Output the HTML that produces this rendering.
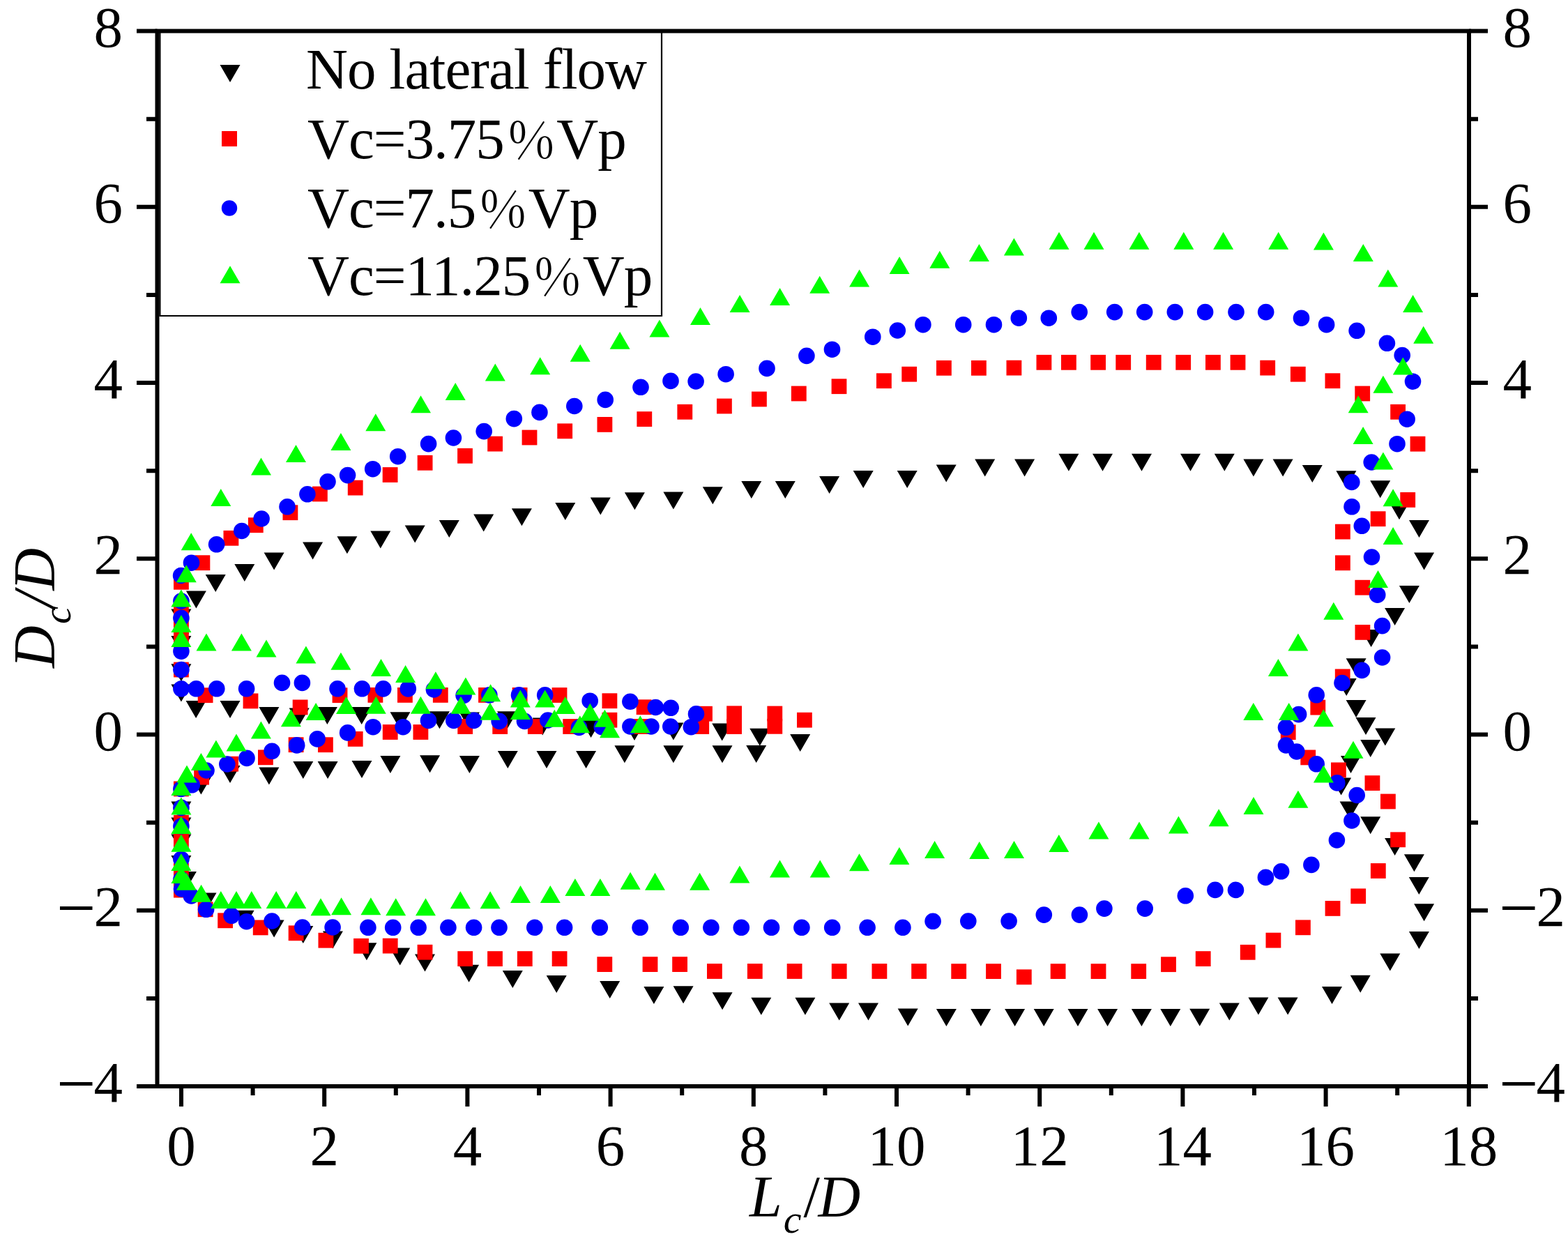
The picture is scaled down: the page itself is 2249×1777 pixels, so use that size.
<!DOCTYPE html><html><head><meta charset="utf-8"><style>html,body{margin:0;padding:0;background:#fff;overflow:hidden;}svg{display:block}</style></head><body>
<svg width="2249" height="1777" viewBox="0 0 2249 1777">
<rect x="0" y="0" width="2249" height="1777" fill="#fff"/>
<path fill="#000" d="M796.3,721.0H825.3L810.8,746.0ZM733.9,729.3H762.9L748.4,754.3ZM679.2,737.6H708.2L693.7,762.6ZM629.8,746.0H658.8L644.3,771.0ZM245.4,981.4H274.4L259.9,1006.4ZM266.6,1005.1H295.6L281.1,1030.1ZM315.5,1005.1H344.5L330.0,1030.1ZM371.4,1014.1H400.4L385.9,1039.1ZM414.7,1015.5H443.7L429.2,1040.5ZM454.9,1014.1H483.9L469.4,1039.1ZM504.2,1014.1H533.2L518.7,1039.1ZM315.5,1098.1H344.5L330.0,1123.1ZM371.4,1100.4H400.4L385.9,1125.4ZM420.3,1092.1H449.3L434.8,1117.1ZM455.6,1092.1H484.6L470.1,1117.1ZM504.5,1091.1H533.5L519.0,1116.1ZM273.9,1114.6H302.9L288.4,1139.6ZM245.4,1149.5H274.4L259.9,1174.5ZM245.4,1172.4H274.4L259.9,1197.4ZM245.4,1196.6H274.4L259.9,1221.6ZM245.4,1227.1H274.4L259.9,1252.1ZM252.9,1250.0H281.9L267.4,1275.0ZM281.5,1280.4H310.5L296.0,1305.4ZM335.6,1305.8H364.6L350.1,1330.8ZM378.6,1319.6H407.6L393.1,1344.6ZM420.3,1327.9H449.3L434.8,1352.9ZM462.9,1335.5H491.9L477.4,1360.5ZM559.5,1021.3H588.5L574.0,1046.3ZM615.9,1020.2H644.9L630.4,1045.2ZM658.9,1021.6H687.9L673.4,1046.6ZM713.1,1020.2H742.1L727.6,1045.2ZM763.7,1029.6H792.7L778.2,1054.6ZM545.4,1084.0H574.4L559.9,1109.0ZM602.1,1083.2H631.1L616.6,1108.2ZM658.9,1084.0H687.9L673.4,1109.0ZM713.8,1076.9H742.8L728.3,1101.9ZM769.5,1076.9H798.5L784.0,1101.9ZM833.1,1033.0H862.1L847.6,1058.0ZM895.5,1037.0H924.5L910.0,1062.0ZM951.4,1036.4H980.4L965.9,1061.4ZM1021.2,1037.4H1050.2L1035.7,1062.4ZM826.1,1077.1H855.1L840.6,1102.1ZM881.4,1069.2H910.4L895.9,1094.2ZM951.4,1069.2H980.4L965.9,1094.2ZM1021.5,1069.2H1050.5L1036.0,1094.2ZM1075.3,1044.8H1104.3L1089.8,1069.8ZM1133.2,1052.9H1162.2L1147.7,1077.9ZM1070.2,1069.0H1099.2L1084.7,1094.0ZM511.4,1352.2H540.4L525.9,1377.2ZM559.2,1359.6H588.2L573.7,1384.6ZM595.0,1368.6H624.0L609.5,1393.6ZM658.1,1383.7H687.1L672.6,1408.7ZM720.8,1391.9H749.8L735.3,1416.9ZM783.7,1399.0H812.7L798.2,1424.0ZM860.2,1407.0H889.2L874.7,1432.0ZM923.4,1415.1H952.4L937.9,1440.1ZM965.6,1414.3H994.6L980.1,1439.3ZM1021.6,1423.3H1050.6L1036.1,1448.3ZM1077.3,1430.7H1106.3L1091.8,1455.7ZM1140.4,1430.7H1169.4L1154.9,1455.7ZM1189.2,1438.6H1218.2L1203.7,1463.6ZM1231.0,1438.6H1260.0L1245.5,1463.6ZM1287.7,1446.6H1316.7L1302.2,1471.6ZM1342.9,1446.9H1371.9L1357.4,1471.9ZM1392.3,1446.9H1421.3L1406.8,1471.9ZM1441.1,1446.9H1470.1L1455.6,1471.9ZM1482.7,1446.9H1511.7L1497.2,1471.9ZM1531.5,1446.9H1560.5L1546.0,1471.9ZM1574.1,1446.9H1603.1L1588.6,1471.9ZM1622.9,1446.9H1651.9L1637.4,1471.9ZM1664.3,1446.9H1693.3L1678.8,1471.9ZM531.3,761.4H560.3L545.8,786.4ZM580.7,753.5H609.7L595.2,778.5ZM846.8,713.5H875.8L861.3,738.5ZM895.9,706.3H924.9L910.4,731.3ZM951.4,705.5H980.4L965.9,730.5ZM1007.8,698.2H1036.8L1022.3,723.2ZM1063.3,689.9H1092.3L1077.8,714.9ZM1111.8,689.9H1140.8L1126.3,714.9ZM1175.1,683.0H1204.1L1189.6,708.0ZM1223.7,674.9H1252.7L1238.2,699.9ZM1286.7,674.9H1315.7L1301.2,699.9ZM1342.7,666.6H1371.7L1357.2,691.6ZM1398.2,658.5H1427.2L1412.7,683.5ZM1455.1,658.5H1484.1L1469.6,683.5ZM1518.4,650.8H1547.4L1532.9,675.8ZM1567.0,650.8H1596.0L1581.5,675.8ZM1623.0,650.8H1652.0L1637.5,675.8ZM1693.0,650.8H1722.0L1707.5,675.8ZM1741.8,650.8H1770.8L1756.3,675.8ZM1783.4,658.5H1812.4L1797.9,683.5ZM1825.6,658.5H1854.6L1840.1,683.5ZM1867.8,666.9H1896.8L1882.3,691.9ZM1916.4,675.2H1945.4L1930.9,700.2ZM1965.2,689.2H1994.2L1979.7,714.2ZM1992.5,720.2H2021.5L2007.0,745.2ZM2021.0,746.0H2050.0L2035.5,771.0ZM2028.1,792.6H2057.1L2042.6,817.6ZM2006.9,840.0H2035.9L2021.4,865.0ZM1986.1,872.0H2015.1L2000.6,897.0ZM1952.1,903.0H1981.1L1966.6,928.0ZM1930.6,944.2H1959.6L1945.1,969.2ZM1916.7,972.9H1945.7L1931.2,997.9ZM1930.6,1004.0H1959.6L1945.1,1029.0ZM1944.5,1029.0H1973.5L1959.0,1054.0ZM1972.3,1044.5H2001.3L1986.8,1069.5ZM1951.2,1061.0H1980.2L1965.7,1086.0ZM1923.0,1083.9H1952.0L1937.5,1108.9ZM1909.1,1115.6H1938.1L1923.6,1140.6ZM1921.6,1149.5H1950.6L1936.1,1174.5ZM1951.2,1171.3H1980.2L1965.7,1196.3ZM1986.1,1202.1H2015.1L2000.6,1227.1ZM2013.9,1225.3H2042.9L2028.4,1250.3ZM2020.8,1258.0H2049.8L2035.3,1283.0ZM2028.1,1296.3H2057.1L2042.6,1321.3ZM2020.9,1335.9H2049.9L2035.4,1360.9ZM1979.3,1367.6H2008.3L1993.8,1392.6ZM1936.7,1398.8H1965.7L1951.2,1423.8ZM1896.0,1414.9H1925.0L1910.5,1439.9ZM1832.6,1430.5H1861.6L1847.1,1455.5ZM1790.4,1430.5H1819.4L1804.9,1455.5ZM1748.8,1438.6H1777.8L1763.3,1463.6ZM1706.2,1446.7H1735.2L1720.7,1471.7ZM483.4,769.3H512.4L497.9,794.3ZM434.1,777.5H463.1L448.6,802.5ZM378.6,792.6H407.6L393.1,817.6ZM336.3,809.0H365.3L350.8,834.0ZM294.7,824.1H323.7L309.2,849.1ZM266.9,847.4H295.9L281.4,872.4ZM245.4,873.5H274.4L259.9,898.5ZM245.4,912.1H274.4L259.9,937.1ZM245.4,952.3H274.4L259.9,977.3Z"/>
<g fill="#f00"><rect x="355.9" y="742.3" width="21.8" height="21.8"/><rect x="405.5" y="724.3" width="21.8" height="21.8"/><rect x="448.0" y="697.6" width="21.8" height="21.8"/><rect x="498.8" y="688.7" width="21.8" height="21.8"/><rect x="548.7" y="670.1" width="21.8" height="21.8"/><rect x="598.7" y="652.9" width="21.8" height="21.8"/><rect x="656.1" y="642.9" width="21.8" height="21.8"/><rect x="699.2" y="625.7" width="21.8" height="21.8"/><rect x="748.6" y="616.6" width="21.8" height="21.8"/><rect x="799.3" y="607.4" width="21.8" height="21.8"/><rect x="283.7" y="986.3" width="21.8" height="21.8"/><rect x="348.6" y="994.5" width="21.8" height="21.8"/><rect x="476.6" y="986.3" width="21.8" height="21.8"/><rect x="419.7" y="1003.5" width="21.8" height="21.8"/><rect x="498.8" y="1049.0" width="21.8" height="21.8"/><rect x="456.0" y="1057.3" width="21.8" height="21.8"/><rect x="413.7" y="1057.3" width="21.8" height="21.8"/><rect x="370.0" y="1075.4" width="21.8" height="21.8"/><rect x="320.2" y="1084.8" width="21.8" height="21.8"/><rect x="278.2" y="1103.8" width="21.8" height="21.8"/><rect x="249.0" y="1120.5" width="21.8" height="21.8"/><rect x="249.0" y="1169.0" width="21.8" height="21.8"/><rect x="249.0" y="1194.2" width="21.8" height="21.8"/><rect x="249.0" y="1237.8" width="21.8" height="21.8"/><rect x="249.0" y="1265.7" width="21.8" height="21.8"/><rect x="283.7" y="1293.4" width="21.8" height="21.8"/><rect x="312.2" y="1309.4" width="21.8" height="21.8"/><rect x="362.8" y="1319.5" width="21.8" height="21.8"/><rect x="413.7" y="1327.4" width="21.8" height="21.8"/><rect x="456.5" y="1337.8" width="21.8" height="21.8"/><rect x="507.1" y="1345.9" width="21.8" height="21.8"/><rect x="527.5" y="986.0" width="21.8" height="21.8"/><rect x="570.0" y="986.0" width="21.8" height="21.8"/><rect x="620.9" y="986.0" width="21.8" height="21.8"/><rect x="686.1" y="986.0" width="21.8" height="21.8"/><rect x="734.7" y="986.0" width="21.8" height="21.8"/><rect x="548.8" y="1039.1" width="21.8" height="21.8"/><rect x="592.5" y="1039.1" width="21.8" height="21.8"/><rect x="656.3" y="1031.1" width="21.8" height="21.8"/><rect x="706.3" y="1031.1" width="21.8" height="21.8"/><rect x="756.9" y="1031.1" width="21.8" height="21.8"/><rect x="791.6" y="986.1" width="21.8" height="21.8"/><rect x="863.5" y="994.3" width="21.8" height="21.8"/><rect x="807.3" y="1031.1" width="21.8" height="21.8"/><rect x="863.5" y="1021.8" width="21.8" height="21.8"/><rect x="912.7" y="1003.3" width="21.8" height="21.8"/><rect x="909.2" y="1031.1" width="21.8" height="21.8"/><rect x="1000.1" y="1012.8" width="21.8" height="21.8"/><rect x="995.3" y="1031.1" width="21.8" height="21.8"/><rect x="1042.2" y="1012.4" width="21.8" height="21.8"/><rect x="1042.2" y="1031.1" width="21.8" height="21.8"/><rect x="1100.4" y="1012.6" width="21.8" height="21.8"/><rect x="1100.4" y="1030.9" width="21.8" height="21.8"/><rect x="1143.0" y="1021.8" width="21.8" height="21.8"/><rect x="548.8" y="1345.7" width="21.8" height="21.8"/><rect x="598.6" y="1354.8" width="21.8" height="21.8"/><rect x="656.3" y="1364.2" width="21.8" height="21.8"/><rect x="699.1" y="1364.2" width="21.8" height="21.8"/><rect x="741.9" y="1364.2" width="21.8" height="21.8"/><rect x="791.7" y="1364.2" width="21.8" height="21.8"/><rect x="856.4" y="1372.2" width="21.8" height="21.8"/><rect x="921.6" y="1372.2" width="21.8" height="21.8"/><rect x="964.2" y="1372.2" width="21.8" height="21.8"/><rect x="1014.0" y="1382.1" width="21.8" height="21.8"/><rect x="1071.9" y="1382.1" width="21.8" height="21.8"/><rect x="1128.7" y="1382.1" width="21.8" height="21.8"/><rect x="1192.8" y="1382.1" width="21.8" height="21.8"/><rect x="1250.5" y="1382.1" width="21.8" height="21.8"/><rect x="1307.2" y="1382.1" width="21.8" height="21.8"/><rect x="1364.3" y="1382.2" width="21.8" height="21.8"/><rect x="1414.1" y="1382.2" width="21.8" height="21.8"/><rect x="1457.9" y="1390.4" width="21.8" height="21.8"/><rect x="1506.7" y="1382.2" width="21.8" height="21.8"/><rect x="1564.6" y="1382.2" width="21.8" height="21.8"/><rect x="1622.3" y="1382.2" width="21.8" height="21.8"/><rect x="1665.1" y="1372.3" width="21.8" height="21.8"/><rect x="856.5" y="598.0" width="21.8" height="21.8"/><rect x="913.4" y="590.2" width="21.8" height="21.8"/><rect x="971.4" y="579.9" width="21.8" height="21.8"/><rect x="1028.0" y="571.6" width="21.8" height="21.8"/><rect x="1078.0" y="561.6" width="21.8" height="21.8"/><rect x="1134.9" y="553.6" width="21.8" height="21.8"/><rect x="1192.6" y="543.3" width="21.8" height="21.8"/><rect x="1257.0" y="535.3" width="21.8" height="21.8"/><rect x="1293.3" y="525.8" width="21.8" height="21.8"/><rect x="1343.0" y="516.9" width="21.8" height="21.8"/><rect x="1393.0" y="516.9" width="21.8" height="21.8"/><rect x="1443.5" y="516.7" width="21.8" height="21.8"/><rect x="1486.5" y="508.9" width="21.8" height="21.8"/><rect x="1522.0" y="508.9" width="21.8" height="21.8"/><rect x="1564.2" y="508.9" width="21.8" height="21.8"/><rect x="1600.3" y="508.9" width="21.8" height="21.8"/><rect x="1643.8" y="508.9" width="21.8" height="21.8"/><rect x="1686.3" y="508.9" width="21.8" height="21.8"/><rect x="1729.0" y="508.9" width="21.8" height="21.8"/><rect x="1764.6" y="508.9" width="21.8" height="21.8"/><rect x="1807.3" y="516.7" width="21.8" height="21.8"/><rect x="1850.9" y="525.8" width="21.8" height="21.8"/><rect x="1900.5" y="535.3" width="21.8" height="21.8"/><rect x="1943.3" y="553.6" width="21.8" height="21.8"/><rect x="1994.2" y="579.9" width="21.8" height="21.8"/><rect x="2022.6" y="625.8" width="21.8" height="21.8"/><rect x="2008.3" y="706.0" width="21.8" height="21.8"/><rect x="1965.7" y="733.3" width="21.8" height="21.8"/><rect x="1915.0" y="751.7" width="21.8" height="21.8"/><rect x="1915.0" y="796.4" width="21.8" height="21.8"/><rect x="1943.4" y="831.8" width="21.8" height="21.8"/><rect x="1943.5" y="896.0" width="21.8" height="21.8"/><rect x="1914.8" y="959.5" width="21.8" height="21.8"/><rect x="1879.4" y="1003.7" width="21.8" height="21.8"/><rect x="1836.8" y="1039.3" width="21.8" height="21.8"/><rect x="1865.3" y="1075.5" width="21.8" height="21.8"/><rect x="1909.0" y="1093.5" width="21.8" height="21.8"/><rect x="1957.5" y="1112.2" width="21.8" height="21.8"/><rect x="1980.0" y="1138.6" width="21.8" height="21.8"/><rect x="1994.2" y="1193.4" width="21.8" height="21.8"/><rect x="1965.9" y="1238.1" width="21.8" height="21.8"/><rect x="1937.3" y="1274.4" width="21.8" height="21.8"/><rect x="1900.6" y="1292.0" width="21.8" height="21.8"/><rect x="1858.0" y="1319.4" width="21.8" height="21.8"/><rect x="1815.5" y="1337.7" width="21.8" height="21.8"/><rect x="1778.8" y="1354.9" width="21.8" height="21.8"/><rect x="1714.8" y="1364.2" width="21.8" height="21.8"/><rect x="320.5" y="760.9" width="21.8" height="21.8"/><rect x="279.5" y="796.3" width="21.8" height="21.8"/><rect x="249.0" y="823.9" width="21.8" height="21.8"/><rect x="249.0" y="864.3" width="21.8" height="21.8"/><rect x="249.0" y="887.9" width="21.8" height="21.8"/><rect x="249.0" y="906.7" width="21.8" height="21.8"/><rect x="249.0" y="949.6" width="21.8" height="21.8"/></g>
<g fill="#00f"><circle cx="375.1" cy="744.0" r="11.8"/><circle cx="346.8" cy="761.5" r="11.8"/><circle cx="412.0" cy="726.8" r="11.8"/><circle cx="440.9" cy="708.8" r="11.8"/><circle cx="470.0" cy="690.8" r="11.8"/><circle cx="498.6" cy="681.6" r="11.8"/><circle cx="534.7" cy="672.7" r="11.8"/><circle cx="570.7" cy="654.7" r="11.8"/><circle cx="614.6" cy="636.6" r="11.8"/><circle cx="650.4" cy="628.0" r="11.8"/><circle cx="694.2" cy="618.6" r="11.8"/><circle cx="737.3" cy="600.6" r="11.8"/><circle cx="773.9" cy="591.4" r="11.8"/><circle cx="259.9" cy="987.8" r="11.8"/><circle cx="281.4" cy="987.8" r="11.8"/><circle cx="310.8" cy="987.8" r="11.8"/><circle cx="353.6" cy="987.8" r="11.8"/><circle cx="404.5" cy="979.4" r="11.8"/><circle cx="433.4" cy="979.4" r="11.8"/><circle cx="484.0" cy="987.8" r="11.8"/><circle cx="519.4" cy="987.8" r="11.8"/><circle cx="498.6" cy="1050.9" r="11.8"/><circle cx="455.1" cy="1059.9" r="11.8"/><circle cx="425.7" cy="1068.9" r="11.8"/><circle cx="390.1" cy="1077.3" r="11.8"/><circle cx="354.0" cy="1087.4" r="11.8"/><circle cx="325.8" cy="1096.0" r="11.8"/><circle cx="296.0" cy="1105.0" r="11.8"/><circle cx="275.2" cy="1125.8" r="11.8"/><circle cx="259.9" cy="1131.4" r="11.8"/><circle cx="259.9" cy="1158.4" r="11.8"/><circle cx="259.9" cy="1184.8" r="11.8"/><circle cx="259.9" cy="1232.2" r="11.8"/><circle cx="259.9" cy="1261.3" r="11.8"/><circle cx="260.5" cy="1275.0" r="11.8"/><circle cx="274.3" cy="1285.0" r="11.8"/><circle cx="295.6" cy="1304.3" r="11.8"/><circle cx="332.1" cy="1313.3" r="11.8"/><circle cx="353.6" cy="1321.7" r="11.8"/><circle cx="390.1" cy="1321.0" r="11.8"/><circle cx="433.8" cy="1330.0" r="11.8"/><circle cx="477.1" cy="1330.0" r="11.8"/><circle cx="549.7" cy="987.9" r="11.8"/><circle cx="585.3" cy="987.9" r="11.8"/><circle cx="622.4" cy="989.0" r="11.8"/><circle cx="665.1" cy="997.3" r="11.8"/><circle cx="701.9" cy="996.9" r="11.8"/><circle cx="744.5" cy="996.9" r="11.8"/><circle cx="781.7" cy="996.9" r="11.8"/><circle cx="535.1" cy="1042.7" r="11.8"/><circle cx="578.1" cy="1042.7" r="11.8"/><circle cx="614.5" cy="1033.4" r="11.8"/><circle cx="650.8" cy="1033.4" r="11.8"/><circle cx="679.7" cy="1033.4" r="11.8"/><circle cx="716.2" cy="1034.4" r="11.8"/><circle cx="752.5" cy="1034.4" r="11.8"/><circle cx="785.8" cy="1033.0" r="11.8"/><circle cx="846.2" cy="1005.2" r="11.8"/><circle cx="830.6" cy="1043.4" r="11.8"/><circle cx="863.3" cy="1042.7" r="11.8"/><circle cx="903.9" cy="1006.3" r="11.8"/><circle cx="940.3" cy="1014.5" r="11.8"/><circle cx="962.2" cy="1015.3" r="11.8"/><circle cx="903.9" cy="1042.0" r="11.8"/><circle cx="934.0" cy="1042.0" r="11.8"/><circle cx="961.8" cy="1042.0" r="11.8"/><circle cx="998.5" cy="1023.9" r="11.8"/><circle cx="991.3" cy="1042.7" r="11.8"/><circle cx="527.9" cy="1330.3" r="11.8"/><circle cx="563.7" cy="1330.3" r="11.8"/><circle cx="600.1" cy="1330.3" r="11.8"/><circle cx="642.9" cy="1330.3" r="11.8"/><circle cx="679.6" cy="1330.3" r="11.8"/><circle cx="716.0" cy="1330.3" r="11.8"/><circle cx="766.8" cy="1330.3" r="11.8"/><circle cx="809.6" cy="1330.3" r="11.8"/><circle cx="860.3" cy="1330.3" r="11.8"/><circle cx="918.1" cy="1330.3" r="11.8"/><circle cx="976.3" cy="1330.3" r="11.8"/><circle cx="1019.9" cy="1330.3" r="11.8"/><circle cx="1063.3" cy="1330.3" r="11.8"/><circle cx="1106.5" cy="1330.3" r="11.8"/><circle cx="1149.9" cy="1330.3" r="11.8"/><circle cx="1193.7" cy="1330.3" r="11.8"/><circle cx="1244.1" cy="1330.3" r="11.8"/><circle cx="1294.9" cy="1330.3" r="11.8"/><circle cx="1338.1" cy="1321.3" r="11.8"/><circle cx="1388.8" cy="1321.1" r="11.8"/><circle cx="1447.1" cy="1321.1" r="11.8"/><circle cx="1497.3" cy="1312.1" r="11.8"/><circle cx="1548.4" cy="1312.1" r="11.8"/><circle cx="1583.9" cy="1303.1" r="11.8"/><circle cx="1642.2" cy="1303.1" r="11.8"/><circle cx="1700.3" cy="1284.8" r="11.8"/><circle cx="1425.5" cy="465.7" r="11.8"/><circle cx="823.8" cy="582.5" r="11.8"/><circle cx="868.2" cy="573.4" r="11.8"/><circle cx="919.0" cy="555.3" r="11.8"/><circle cx="962.0" cy="546.4" r="11.8"/><circle cx="998.1" cy="547.0" r="11.8"/><circle cx="1041.1" cy="536.7" r="11.8"/><circle cx="1100.0" cy="528.4" r="11.8"/><circle cx="1156.9" cy="510.4" r="11.8"/><circle cx="1193.5" cy="501.2" r="11.8"/><circle cx="1251.8" cy="483.2" r="11.8"/><circle cx="1287.3" cy="474.0" r="11.8"/><circle cx="1323.9" cy="465.7" r="11.8"/><circle cx="1381.7" cy="465.7" r="11.8"/><circle cx="1461.3" cy="456.2" r="11.8"/><circle cx="1504.3" cy="456.2" r="11.8"/><circle cx="1548.2" cy="447.6" r="11.8"/><circle cx="1598.7" cy="447.6" r="11.8"/><circle cx="1641.7" cy="447.6" r="11.8"/><circle cx="1685.3" cy="447.6" r="11.8"/><circle cx="1728.6" cy="447.6" r="11.8"/><circle cx="1773.0" cy="447.6" r="11.8"/><circle cx="1815.7" cy="447.6" r="11.8"/><circle cx="1866.5" cy="456.2" r="11.8"/><circle cx="1902.6" cy="465.7" r="11.8"/><circle cx="1946.1" cy="474.3" r="11.8"/><circle cx="1989.4" cy="492.3" r="11.8"/><circle cx="2011.2" cy="509.6" r="11.8"/><circle cx="2026.5" cy="547.1" r="11.8"/><circle cx="2018.1" cy="601.2" r="11.8"/><circle cx="2004.0" cy="636.7" r="11.8"/><circle cx="1967.2" cy="663.0" r="11.8"/><circle cx="1938.8" cy="691.5" r="11.8"/><circle cx="1939.0" cy="726.8" r="11.8"/><circle cx="1953.3" cy="754.3" r="11.8"/><circle cx="1967.5" cy="799.0" r="11.8"/><circle cx="1975.7" cy="853.2" r="11.8"/><circle cx="1982.6" cy="897.6" r="11.8"/><circle cx="1982.6" cy="943.0" r="11.8"/><circle cx="1953.4" cy="961.4" r="11.8"/><circle cx="1925.0" cy="979.5" r="11.8"/><circle cx="1888.2" cy="996.8" r="11.8"/><circle cx="1862.6" cy="1024.6" r="11.8"/><circle cx="1844.5" cy="1043.3" r="11.8"/><circle cx="1844.5" cy="1069.0" r="11.8"/><circle cx="1859.8" cy="1078.0" r="11.8"/><circle cx="1888.2" cy="1095.8" r="11.8"/><circle cx="1917.8" cy="1122.9" r="11.8"/><circle cx="1946.2" cy="1140.5" r="11.8"/><circle cx="1938.9" cy="1177.0" r="11.8"/><circle cx="1917.4" cy="1205.0" r="11.8"/><circle cx="1880.9" cy="1240.4" r="11.8"/><circle cx="1837.6" cy="1249.8" r="11.8"/><circle cx="1815.4" cy="1258.4" r="11.8"/><circle cx="1742.9" cy="1276.4" r="11.8"/><circle cx="1772.5" cy="1276.4" r="11.8"/><circle cx="310.6" cy="780.8" r="11.8"/><circle cx="274.5" cy="807.2" r="11.8"/><circle cx="259.6" cy="825.5" r="11.8"/><circle cx="259.9" cy="862.0" r="11.8"/><circle cx="259.9" cy="886.3" r="11.8"/><circle cx="259.9" cy="934.1" r="11.8"/><circle cx="259.9" cy="960.5" r="11.8"/></g>
<path fill="#0f0" d="M302.3,726.0H331.3L316.8,701.0ZM360.0,681.6H389.0L374.5,656.6ZM410.0,663.0H439.0L424.5,638.0ZM474.4,646.1H503.4L488.9,621.1ZM524.3,618.3H553.3L538.8,593.3ZM589.0,592.2H618.0L603.5,567.2ZM638.7,573.9H667.7L653.2,548.9ZM695.8,546.5H724.8L710.3,521.5ZM760.2,537.3H789.2L774.7,512.3ZM402.9,1042.2H431.9L417.4,1017.2ZM438.6,1032.9H467.6L453.1,1007.9ZM482.0,1024.1H511.0L496.5,999.1ZM359.9,1059.4H388.9L374.4,1034.4ZM324.5,1077.5H353.5L339.0,1052.5ZM295.4,1086.6H324.4L309.9,1061.6ZM273.9,1105.0H302.9L288.4,1080.0ZM253.5,1122.4H282.5L268.0,1097.4ZM245.4,1141.1H274.4L259.9,1116.1ZM245.4,1168.4H274.4L259.9,1143.4ZM245.4,1195.9H274.4L259.9,1170.9ZM245.4,1221.8H274.4L259.9,1196.8ZM245.4,1249.1H274.4L259.9,1224.1ZM245.4,1266.9H274.4L259.9,1241.9ZM252.8,1276.8H281.8L267.3,1251.8ZM274.1,1293.8H303.1L288.6,1268.8ZM302.3,1303.1H331.3L316.8,1278.1ZM324.5,1303.1H353.5L339.0,1278.1ZM346.3,1303.1H375.3L360.8,1278.1ZM381.7,1303.1H410.7L396.2,1278.1ZM410.3,1303.1H439.3L424.8,1278.1ZM445.5,1313.2H474.5L460.0,1288.2ZM475.1,1312.2H504.1L489.6,1287.2ZM532.0,970.0H561.0L546.5,945.0ZM567.1,979.0H596.1L581.6,954.0ZM610.4,988.3H639.4L624.9,963.3ZM653.4,996.6H682.4L667.9,971.6ZM689.1,1006.3H718.1L703.6,981.3ZM731.8,1014.5H760.8L746.3,989.5ZM767.2,1014.5H796.2L781.7,989.5ZM524.8,1023.8H553.8L539.3,998.8ZM588.9,1023.8H617.9L603.4,998.8ZM646.5,1023.8H675.5L661.0,998.8ZM688.5,1032.7H717.5L703.0,1007.7ZM731.8,1032.1H760.8L746.3,1007.1ZM780.8,1042.7H809.8L795.3,1017.7ZM796.3,1024.1H825.3L810.8,999.1ZM831.8,1033.7H860.8L846.3,1008.7ZM817.3,1051.3H846.3L831.8,1026.3ZM852.9,1042.7H881.9L867.4,1017.7ZM860.1,1058.2H889.1L874.6,1033.2ZM903.8,1051.3H932.8L918.3,1026.3ZM517.4,1312.3H546.4L531.9,1287.3ZM553.2,1313.3H582.2L567.7,1288.3ZM596.0,1313.3H625.0L610.5,1288.3ZM645.8,1303.2H674.8L660.3,1278.2ZM688.6,1303.2H717.6L703.1,1278.2ZM732.0,1295.0H761.0L746.5,1270.0ZM774.8,1295.0H803.8L789.3,1270.0ZM810.4,1284.9H839.4L824.9,1259.9ZM846.4,1284.9H875.4L860.9,1259.9ZM889.6,1275.7H918.6L904.1,1250.7ZM925.0,1276.7H954.0L939.5,1251.7ZM989.1,1276.7H1018.1L1003.6,1251.7ZM1046.4,1266.6H1075.4L1060.9,1241.6ZM1104.0,1258.4H1133.0L1118.5,1233.4ZM1161.7,1258.4H1190.7L1176.2,1233.4ZM1218.0,1249.2H1247.0L1232.5,1224.2ZM1275.4,1240.1H1304.4L1289.9,1215.1ZM1326.1,1230.9H1355.1L1340.6,1205.9ZM1390.2,1232.0H1419.2L1404.7,1207.0ZM1440.0,1231.0H1469.0L1454.5,1206.0ZM1504.3,1222.1H1533.3L1518.8,1197.1ZM1561.4,1203.6H1590.4L1575.9,1178.6ZM1619.5,1203.6H1648.5L1634.0,1178.6ZM1675.9,1195.4H1704.9L1690.4,1170.4ZM1733.6,1185.3H1762.6L1748.1,1160.3ZM817.7,518.7H846.7L832.2,493.7ZM874.6,500.7H903.6L889.1,475.7ZM931.4,483.5H960.4L945.9,458.5ZM990.0,466.0H1019.0L1004.5,441.0ZM1046.6,447.9H1075.6L1061.1,422.9ZM1104.1,437.9H1133.1L1118.6,412.9ZM1161.2,420.7H1190.2L1175.7,395.7ZM1218.1,411.6H1247.1L1232.6,386.6ZM1275.6,393.0H1304.6L1290.1,368.0ZM1333.3,384.7H1362.3L1347.8,359.7ZM1389.9,374.9H1418.9L1404.4,349.9ZM1439.9,366.6H1468.9L1454.4,341.6ZM1504.5,357.7H1533.5L1519.0,332.7ZM1554.5,357.7H1583.5L1569.0,332.7ZM1619.4,357.7H1648.4L1633.9,332.7ZM1683.3,357.7H1712.3L1697.8,332.7ZM1740.1,357.7H1769.1L1754.6,332.7ZM1819.2,357.7H1848.2L1833.7,332.7ZM1883.9,358.6H1912.9L1898.4,333.6ZM1940.8,374.9H1969.8L1955.3,349.9ZM1976.3,411.6H2005.3L1990.8,386.6ZM2012.1,448.0H2041.1L2026.6,423.0ZM2027.2,492.7H2056.2L2041.7,467.7ZM1997.8,537.4H2026.8L2012.3,512.4ZM1969.4,563.7H1998.4L1983.9,538.7ZM1933.7,592.2H1962.7L1948.2,567.2ZM1940.6,636.9H1969.6L1955.1,611.9ZM1969.4,673.4H1998.4L1983.9,648.4ZM1983.6,726.3H2012.6L1998.1,701.3ZM1983.6,781.1H2012.6L1998.1,756.1ZM1962.0,843.0H1991.0L1976.5,818.0ZM1898.3,888.7H1927.3L1912.8,863.7ZM1847.4,933.4H1876.4L1861.9,908.4ZM1818.9,970.0H1847.9L1833.4,945.0ZM1783.3,1032.9H1812.3L1797.8,1007.9ZM1834.2,1032.9H1863.2L1848.7,1007.9ZM1883.9,1042.2H1912.9L1898.4,1017.2ZM1926.5,1087.8H1955.5L1941.0,1062.8ZM1883.9,1122.5H1912.9L1898.4,1097.5ZM1783.5,1168.0H1812.5L1798.0,1143.0ZM1847.4,1158.7H1876.4L1861.9,1133.7ZM259.7,789.3H288.7L274.2,764.3ZM252.8,835.2H281.8L267.3,810.2ZM245.4,870.6H274.4L259.9,845.6ZM245.4,907.1H274.4L259.9,882.1ZM245.4,927.9H274.4L259.9,902.9ZM281.5,933.5H310.5L296.0,908.5ZM331.9,933.5H360.9L346.4,908.5ZM367.5,942.6H396.5L382.0,917.6ZM424.4,951.6H453.4L438.9,926.6ZM474.4,960.7H503.4L488.9,935.7Z"/>
<path d="M229.4,44.6 V453 H949 V44.6" fill="none" stroke="#000" stroke-width="2.2"/>
<path fill="#000" d="M315.5,93.0H344.5L330.0,118.0Z"/>
<rect fill="#f00" x="318" y="188" width="22" height="22"/>
<circle fill="#00f" cx="329" cy="298.5" r="11.2"/>
<path fill="#0f0" d="M315.5,406.2H344.5L330.0,381.2Z"/>
<g stroke="#000" stroke-width="6" fill="none" stroke-linecap="square">
<path d="M225.5,44.6H2107.0V1558.0H225.5Z" stroke-linecap="butt" stroke-linejoin="miter"/>
</g>
<path stroke="#000" stroke-width="6" fill="none" d="M196,1558.0H225.5M2107.0,1558.0H2134M210,1431.9H225.5M2107.0,1431.9H2120M196,1305.8H225.5M2107.0,1305.8H2134M210,1179.7H225.5M2107.0,1179.7H2120M196,1053.6H225.5M2107.0,1053.6H2134M210,927.4H225.5M2107.0,927.4H2120M196,801.3H225.5M2107.0,801.3H2134M210,675.2H225.5M2107.0,675.2H2120M196,549.1H225.5M2107.0,549.1H2134M210,423.0H225.5M2107.0,423.0H2120M196,296.8H225.5M2107.0,296.8H2134M210,170.7H225.5M2107.0,170.7H2120M196,44.6H225.5M2107.0,44.6H2134M260.0,1558.0V1587M362.6,1558.0V1571M465.2,1558.0V1587M567.8,1558.0V1571M670.4,1558.0V1587M773.0,1558.0V1571M875.6,1558.0V1587M978.2,1558.0V1571M1080.8,1558.0V1587M1183.4,1558.0V1571M1286.0,1558.0V1587M1388.6,1558.0V1571M1491.2,1558.0V1587M1593.8,1558.0V1571M1696.4,1558.0V1587M1799.0,1558.0V1571M1901.6,1558.0V1587M2004.2,1558.0V1571M2106.8,1558.0V1587"/>
<g font-family='"Liberation Serif","Times New Roman",serif' font-size="83" fill="#000">
<text x="176" y="1580.0" text-anchor="end"><tspan font-size="100" dy="8">−</tspan><tspan dy="-8" dx="-3">4</tspan></text>
<text x="2150" y="1580.0"><tspan font-size="100" dy="8">−</tspan><tspan dy="-8" dx="-3">4</tspan></text>
<text x="176" y="1327.8" text-anchor="end"><tspan font-size="100" dy="8">−</tspan><tspan dy="-8" dx="-3">2</tspan></text>
<text x="2150" y="1327.8"><tspan font-size="100" dy="8">−</tspan><tspan dy="-8" dx="-3">2</tspan></text>
<text x="176" y="1075.6" text-anchor="end">0</text>
<text x="2155.5" y="1075.6">0</text>
<text x="176" y="823.3" text-anchor="end">2</text>
<text x="2155.5" y="823.3">2</text>
<text x="176" y="571.1" text-anchor="end">4</text>
<text x="2155.5" y="571.1">4</text>
<text x="176" y="318.8" text-anchor="end">6</text>
<text x="2155.5" y="318.8">6</text>
<text x="176" y="66.6" text-anchor="end">8</text>
<text x="2155.5" y="66.6">8</text>
<text x="260.0" y="1670.5" text-anchor="middle">0</text>
<text x="465.2" y="1670.5" text-anchor="middle">2</text>
<text x="670.4" y="1670.5" text-anchor="middle">4</text>
<text x="875.6" y="1670.5" text-anchor="middle">6</text>
<text x="1080.8" y="1670.5" text-anchor="middle">8</text>
<text x="1286.0" y="1670.5" text-anchor="middle">10</text>
<text x="1491.2" y="1670.5" text-anchor="middle">12</text>
<text x="1696.4" y="1670.5" text-anchor="middle">14</text>
<text x="1901.6" y="1670.5" text-anchor="middle">16</text>
<text x="2106.8" y="1670.5" text-anchor="middle">18</text>
<text x="439" y="127" letter-spacing="-0.96">No lateral flow</text>
<text x="441" y="226.5" letter-spacing="-1">Vc=3.75<tspan font-family="&quot;Noto Serif CJK SC&quot;, serif" font-size="72" dx="6">%</tspan><tspan dx="4">Vp</tspan></text>
<text x="441" y="325.5" letter-spacing="-1">Vc=7.5<tspan font-family="&quot;Noto Serif CJK SC&quot;, serif" font-size="72" dx="6">%</tspan><tspan dx="4">Vp</tspan></text>
<text x="441" y="423" letter-spacing="-1">Vc=11.25<tspan font-family="&quot;Noto Serif CJK SC&quot;, serif" font-size="72" dx="6">%</tspan><tspan dx="4">Vp</tspan></text>
</g>
<text font-family='"Liberation Serif","Times New Roman",serif' font-style="italic" font-size="84" y="1745"><tspan x="1075">L</tspan><tspan x="1123.7" y="1768" font-size="58">c</tspan><tspan x="1152.6" y="1745" font-style="normal">/</tspan><tspan x="1173.6">D</tspan></text>
<text font-family='"Liberation Serif","Times New Roman",serif' font-style="italic" font-size="84" transform="translate(78,962) rotate(-90)" y="0"><tspan x="3.9">D</tspan><tspan x="67" y="23" font-size="58">c</tspan><tspan x="90.3" y="0">/</tspan><tspan x="115.3">D</tspan></text>
</svg></body></html>
